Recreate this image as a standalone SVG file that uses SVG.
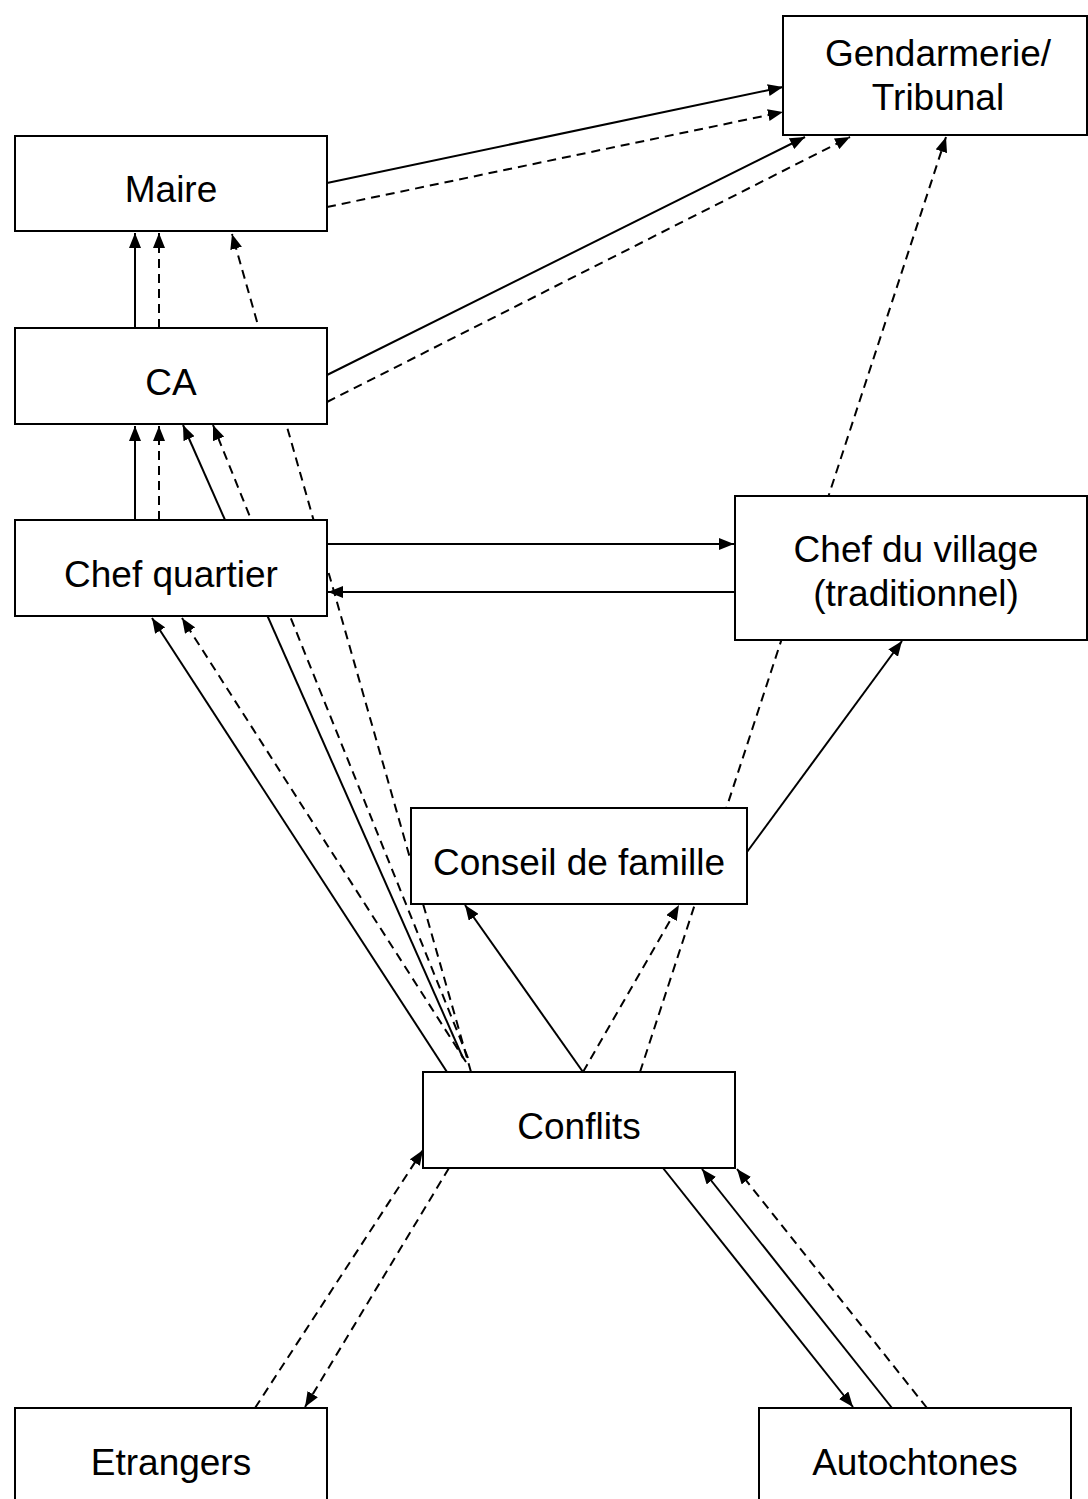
<svg xmlns="http://www.w3.org/2000/svg" width="1088" height="1499" viewBox="0 0 1088 1499">
<style>
.box{fill:#fff;stroke:#000;stroke-width:2}
.lbl{font-family:"Liberation Sans",Arial,sans-serif;font-size:37px;fill:#000;text-anchor:middle}
.s{stroke:#000;stroke-width:2;fill:none;marker-end:url(#ah)}
.d{stroke:#000;stroke-width:2;fill:none;stroke-dasharray:9 6;marker-end:url(#ah)}
</style>
<defs>
<marker id="ah" markerWidth="15" markerHeight="12" refX="15" refY="6" orient="auto" markerUnits="userSpaceOnUse">
<path d="M0,0 L15,6 L0,12 z" fill="#000"/>
</marker>
</defs>
<rect width="1088" height="1499" fill="#fff"/>
<g id="connectors">
<line class="s" x1="327" y1="183" x2="783" y2="87"/>
<line class="d" x1="327" y1="207" x2="783" y2="112"/>
<line class="s" x1="327" y1="375" x2="805" y2="137"/>
<line class="d" x1="327" y1="402" x2="850" y2="137"/>
<line class="d" x1="640" y1="1072" x2="946" y2="137"/>
<line class="s" x1="135" y1="328" x2="135" y2="233"/>
<line class="d" x1="159" y1="328" x2="159" y2="233"/>
<line class="s" x1="135" y1="520" x2="135" y2="426"/>
<line class="d" x1="159" y1="520" x2="159" y2="426"/>
<line class="s" x1="327" y1="544" x2="734" y2="544"/>
<line class="s" x1="735" y1="592" x2="328" y2="592"/>
<line class="d" x1="471" y1="1072" x2="232" y2="234"/>
<line class="s" x1="463" y1="1058" x2="183" y2="425"/>
<line class="d" x1="468" y1="1058" x2="213" y2="425"/>
<line class="s" x1="447" y1="1072" x2="152" y2="618"/>
<line class="d" x1="466" y1="1062" x2="182" y2="618"/>
<line class="s" x1="747" y1="852" x2="902" y2="641"/>
<line class="s" x1="583" y1="1072" x2="465" y2="905"/>
<line class="d" x1="583" y1="1072" x2="679" y2="905"/>
<line class="d" x1="255" y1="1408" x2="423" y2="1150"/>
<line class="d" x1="449" y1="1168" x2="305" y2="1407"/>
<line class="s" x1="663" y1="1168" x2="853" y2="1407"/>
<line class="s" x1="892" y1="1408" x2="702" y2="1169"/>
<line class="d" x1="927" y1="1408" x2="737" y2="1169"/>
</g>
<g id="gendarmerie">
<rect class="box" x="783" y="16" width="304" height="119"/>
<text class="lbl" x="938" y="66">Gendarmerie/</text>
<text class="lbl" x="938" y="110">Tribunal</text>
</g>
<g id="maire">
<rect class="box" x="15" y="136" width="312" height="95"/>
<text class="lbl" x="171" y="202">Maire</text>
</g>
<g id="ca">
<rect class="box" x="15" y="328" width="312" height="96"/>
<text class="lbl" x="171" y="395">CA</text>
</g>
<g id="chef-quartier">
<rect class="box" x="15" y="520" width="312" height="96"/>
<text class="lbl" x="171" y="587">Chef quartier</text>
</g>
<g id="chef-village">
<rect class="box" x="735" y="496" width="352" height="144"/>
<text class="lbl" x="916" y="562">Chef du village</text>
<text class="lbl" x="916" y="606">(traditionnel)</text>
</g>
<g id="conseil">
<rect class="box" x="411" y="808" width="336" height="96"/>
<text class="lbl" x="579" y="875">Conseil de famille</text>
</g>
<g id="conflits">
<rect class="box" x="423" y="1072" width="312" height="96"/>
<text class="lbl" x="579" y="1139">Conflits</text>
</g>
<g id="etrangers">
<rect class="box" x="15" y="1408" width="312" height="100"/>
<text class="lbl" x="171" y="1475">Etrangers</text>
</g>
<g id="autochtones">
<rect class="box" x="759" y="1408" width="312" height="100"/>
<text class="lbl" x="915" y="1475">Autochtones</text>
</g>
</svg>
